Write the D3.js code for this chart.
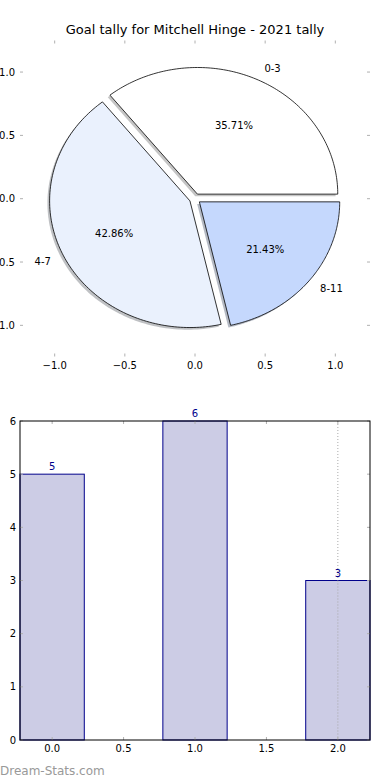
<!DOCTYPE html>
<html>
<head>
<meta charset="utf-8">
<script src="https://cdn.jsdelivr.net/npm/d3@7"></script>
<style>
  body { margin: 0; background: #fff; }
  svg { display: block; font-family: "DejaVu Sans", sans-serif; }
</style>
</head>
<body>
<svg id="chart" width="390" height="780"></svg>
<script>
const title = "Goal tally for Mitchell Hinge - 2021 tally";
const categories = ["0-3", "4-7", "8-11"];
const goals = [5, 6, 3];
const sliceColors = ["#ffffff", "#eaf1fd", "#c5d8fd"];
const pieTicks = [-1, -0.5, 0, 0.5, 1];
const barPositions = [0, 1, 2];
const barTicksX = [0, 0.5, 1, 1.5, 2];
const barTicksY = [0, 1, 2, 3, 4, 5, 6];

const svg = d3.select("#chart");
const fmt = d => d3.format(".1f")(d).replace("-", "\u2212");

// ---------- pie ----------
const px = d3.scaleLinear().domain([-1.25, 1.25]).range([19.6, 370.4]);
const py = d3.scaleLinear().domain([-1.25, 1.25]).range([357, 40.4]);
const explode = 0.04;

svg.append("text")
  .attr("x", 195).attr("y", 34)
  .attr("text-anchor", "middle")
  .style("font-size", "13px")
  .text(title);

const pieG = svg.append("g");

// gray tick marks, no spines
const tickColor = "#b0b0b0";
pieTicks.forEach(t => {
  pieG.append("line").attr("x1", px(t)).attr("x2", px(t)).attr("y1", 40.5).attr("y2", 43.5).attr("stroke", tickColor);
  pieG.append("line").attr("x1", px(t)).attr("x2", px(t)).attr("y1", 356.5).attr("y2", 353.5).attr("stroke", tickColor);
  pieG.append("line").attr("y1", py(t)).attr("y2", py(t)).attr("x1", 20).attr("x2", 23).attr("stroke", tickColor);
  pieG.append("line").attr("y1", py(t)).attr("y2", py(t)).attr("x1", 370).attr("x2", 367).attr("stroke", tickColor);
  pieG.append("text").attr("x", px(t)).attr("y", 369)
    .attr("text-anchor", "middle").style("font-size", "10px").text(fmt(t));
  pieG.append("text").attr("x", 15).attr("y", py(t) + 3.6)
    .attr("text-anchor", "end").style("font-size", "10px").text(fmt(t));
});

const arcs = d3.pie().sort(null)(goals);
const total = d3.sum(goals);
const wedges = arcs.map((a, i) => {
  // matplotlib style: counter-clockwise from 3 o'clock
  const t1 = a.startAngle, t2 = a.endAngle;
  const mid = (t1 + t2) / 2;
  const cx = explode * Math.cos(mid), cy = explode * Math.sin(mid);
  const pts = [[cx, cy]];
  const n = 120;
  for (let k = 0; k <= n; k++) {
    const t = t1 + (t2 - t1) * k / n;
    pts.push([cx + Math.cos(t), cy + Math.sin(t)]);
  }
  return { i, mid, pts, value: a.value };
});

const line = d3.line().x(d => px(d[0])).y(d => py(d[1]));

// shadows first
pieG.selectAll(".shadow").data(wedges).enter().append("path")
  .attr("class", "shadow")
  .attr("d", d => line(d.pts) + "Z")
  .attr("transform", "translate(-2.2,2.2)")
  .attr("fill", d => d3.rgb(sliceColors[d.i]).darker(1.7))
  .attr("opacity", 0.5);

pieG.selectAll(".wedge").data(wedges).enter().append("path")
  .attr("class", "wedge")
  .attr("d", d => line(d.pts) + "Z")
  .attr("fill", d => sliceColors[d.i])
  .attr("stroke", "#000")
  .attr("stroke-width", 0.8)
  .attr("stroke-linejoin", "miter");

wedges.forEach(d => {
  const c = Math.cos(d.mid), s = Math.sin(d.mid);
  const lr = 1.1 + explode, pr = 0.6 + explode;
  pieG.append("text")
    .attr("x", px(lr * c)).attr("y", py(lr * s) + 3.6)
    .attr("text-anchor", c >= 0 ? "start" : "end")
    .style("font-size", "10px")
    .text(categories[d.i]);
  pieG.append("text")
    .attr("x", px(pr * c)).attr("y", py(pr * s) + 3.6)
    .attr("text-anchor", "middle")
    .style("font-size", "10px")
    .text(d3.format(".2f")(d.value / total * 100) + "%");
});

// ---------- bars ----------
const bx = d3.scaleLinear().domain([-0.225, 2.225]).range([20, 370]);
const by = d3.scaleLinear().domain([0, 6]).range([740, 421]);
const barW = 0.45;
const barG = svg.append("g");

// dotted grid line at x = 2
barG.append("line")
  .attr("x1", bx(2)).attr("x2", bx(2)).attr("y1", by(6)).attr("y2", by(0))
  .attr("stroke", "#aaaaaa").attr("stroke-dasharray", "1,2");

barG.selectAll(".bar").data(goals).enter().append("rect")
  .attr("class", "bar")
  .attr("x", (d, i) => bx(barPositions[i] - barW / 2))
  .attr("y", d => by(d))
  .attr("width", bx(barW) - bx(0))
  .attr("height", d => by(0) - by(d))
  .attr("fill", "#ccccE5")
  .attr("stroke", "#00008b")
  .attr("stroke-width", 1);

// grid line again on top of the bar, as in the original
barG.append("line")
  .attr("x1", bx(2)).attr("x2", bx(2)).attr("y1", by(goals[2])).attr("y2", by(0))
  .attr("stroke", "#aaaaaa").attr("stroke-dasharray", "1,2");

barG.selectAll(".blabel").data(goals).enter().append("text")
  .attr("x", (d, i) => bx(barPositions[i]))
  .attr("y", d => by(d) - 4)
  .attr("text-anchor", "middle")
  .attr("fill", "#00008b")
  .style("font-size", "10px")
  .text(d => d);

barTicksX.forEach(t => {
  barG.append("line").attr("x1", bx(t)).attr("x2", bx(t)).attr("y1", 421).attr("y2", 424).attr("stroke", tickColor);
  barG.append("line").attr("x1", bx(t)).attr("x2", bx(t)).attr("y1", 740).attr("y2", 737).attr("stroke", tickColor);
  barG.append("text").attr("x", bx(t)).attr("y", 752)
    .attr("text-anchor", "middle").style("font-size", "10px").text(fmt(t));
});
barTicksY.forEach(t => {
  barG.append("line").attr("y1", by(t)).attr("y2", by(t)).attr("x1", 20).attr("x2", 23).attr("stroke", tickColor);
  barG.append("line").attr("y1", by(t)).attr("y2", by(t)).attr("x1", 370).attr("x2", 367).attr("stroke", tickColor);
  barG.append("text").attr("x", 16).attr("y", by(t) + 3.6)
    .attr("text-anchor", "end").style("font-size", "10px").text(t);
});

barG.append("rect")
  .attr("x", 20).attr("y", 421)
  .attr("width", 350).attr("height", 319)
  .attr("fill", "none").attr("stroke", "#000").attr("stroke-width", 1);

svg.append("text")
  .attr("x", 0).attr("y", 775)
  .attr("fill", "#999")
  .style("font-size", "12px")
  .text("Dream-Stats.com");
</script>
</body>
</html>
